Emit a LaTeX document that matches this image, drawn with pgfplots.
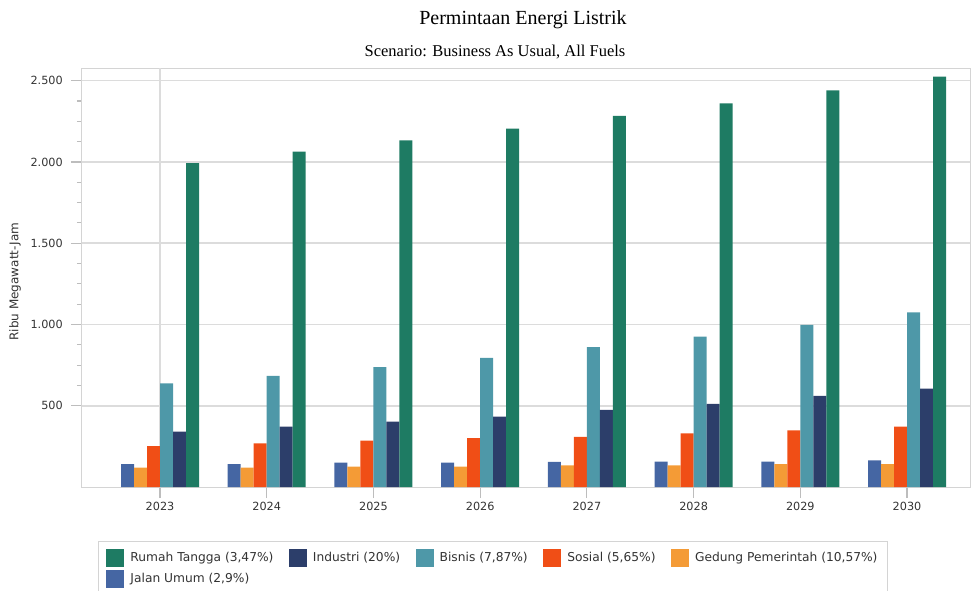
\documentclass[border=0pt]{standalone}
\usepackage{pgfplots}
\pgfplotsset{compat=1.18}
\usepackage{fontspec}
\setmainfont{DejaVu Sans}
\newfontfamily\titlefont{Liberation Serif}
\definecolor{cRT}{HTML}{1E7B63}
\definecolor{cIN}{HTML}{2C3E6A}
\definecolor{cBI}{HTML}{4E98A8}
\definecolor{cSO}{HTML}{F04E16}
\definecolor{cGP}{HTML}{F49B36}
\definecolor{cJU}{HTML}{4566A3}
\definecolor{gridc}{HTML}{DCDCDC}
\definecolor{framec}{HTML}{D4D4D4}
\definecolor{tickc}{HTML}{BDBDBD}
\definecolor{txt}{HTML}{333333}
\begin{document}
\begin{tikzpicture}[x=1pt,y=1pt]
% axis south west corner is at (0,0) = image pixel (82,487)
\path[use as bounding box] (-82pt,-103pt) rectangle (890pt,487pt);
\clip (-82pt,-103pt) rectangle (890pt,487pt);
\node[font=\titlefont\fontsize{20}{22}\selectfont, text=black] at (441pt,467pt) {Permintaan Energi Listrik};
\node[font=\titlefont\fontsize{16.5}{18}\selectfont, text=black] at (413pt,435pt) {Scenario: Business As Usual, All Fuels};
\begin{axis}[
  anchor=south west,
  scale only axis, width=888pt, height=419pt,
  xmin=-0.731, xmax=7.59, ymin=0, ymax=2578,
  ybar, bar width=13pt,
  xtick={0,1,2,3,4,5,6,7},
  xticklabels={2023,2024,2025,2026,2027,2028,2029,2030},
  ytick={500,1000,1500,2000,2500},
  minor y tick num=3,
  extra x ticks={0}, extra x tick labels={},
  extra x tick style={xmajorgrids=true, major grid style={color=gridc, line width=1.3pt}, major tick length=0pt},
  ymajorgrids,
  major grid style={color=gridc, line width=1.6pt},
  axis line style={color=framec, line width=1pt},
  tick align=outside,
  xtick pos=bottom, ytick pos=left,
  major tick length=11pt, minor tick length=5pt,
  every tick/.style={color=tickc, line width=1.2pt},
  minor tick style={color=tickc, line width=1.2pt},
  /pgf/number format/assume math mode=true,
  yticklabel style={/pgf/number format/1000 sep={.}, font=\fontsize{11.25}{13}\selectfont, text=txt, inner sep=0pt, xshift=-8pt},
  xticklabel style={font=\fontsize{11.25}{13}\selectfont, text=txt, inner sep=0pt, yshift=-4pt},
  ylabel={Ribu Megawatt-Jam},
  every axis y label/.style={at={(axis description cs:-0.0755,0.49)}, rotate=90, anchor=center, font=\fontsize{12}{14}\selectfont, text=txt},
  legend columns=5,
  legend cell align=left,
  legend style={at={(axis description cs:0.018,-0.1289)}, anchor=north west, draw=framec, line width=1pt,
    font=\fontsize{12.25}{14}\selectfont, text=txt, inner xsep=8pt, inner ysep=7pt,
    row sep=3pt,
    /tikz/every even column/.append style={column sep=13.5pt},
    /tikz/every odd column/.append style={column sep=4pt}},
  legend image code/.code={\fill[#1, draw=none] (0pt,-9pt) rectangle (18pt,9pt);},
]
\addplot[fill=cJU, draw=none, forget plot, bar shift=-32.5pt] coordinates {(0,141) (1,141) (2,150) (3,150) (4,154) (5,156) (6,156) (7,164)};
\addplot[fill=cGP, draw=none, forget plot, bar shift=-19.5pt] coordinates {(0,119) (1,119) (2,125) (3,125) (4,133) (5,133) (6,141) (7,141)};
\addplot[fill=cSO, draw=none, forget plot, bar shift=-6.5pt] coordinates {(0,252) (1,269) (2,285) (3,300) (4,308) (5,330) (6,349) (7,371)};
\addplot[fill=cBI, draw=none, forget plot, bar shift=6.5pt] coordinates {(0,638) (1,683) (2,737) (3,794) (4,860) (5,925) (6,997) (7,1075)};
\addplot[fill=cIN, draw=none, forget plot, bar shift=19.5pt] coordinates {(0,340) (1,371) (2,402) (3,433) (4,474) (5,512) (6,560) (7,605)};
\addplot[fill=cRT, draw=none, forget plot, bar shift=32.5pt] coordinates {(0,1992) (1,2063) (2,2133) (3,2205) (4,2283) (5,2361) (6,2441) (7,2525)};
\addlegendimage{fill=cRT, draw=none}\addlegendentry{Rumah Tangga (3,47\%)}
\addlegendimage{fill=cIN, draw=none}\addlegendentry{Industri (20\%)}
\addlegendimage{fill=cBI, draw=none}\addlegendentry{Bisnis (7,87\%)}
\addlegendimage{fill=cSO, draw=none}\addlegendentry{Sosial (5,65\%)}
\addlegendimage{fill=cGP, draw=none}\addlegendentry{Gedung Pemerintah (10,57\%)}
\addlegendimage{fill=cJU, draw=none}\addlegendentry{Jalan Umum (2,9\%)}
\end{axis}
\end{tikzpicture}
\end{document}
